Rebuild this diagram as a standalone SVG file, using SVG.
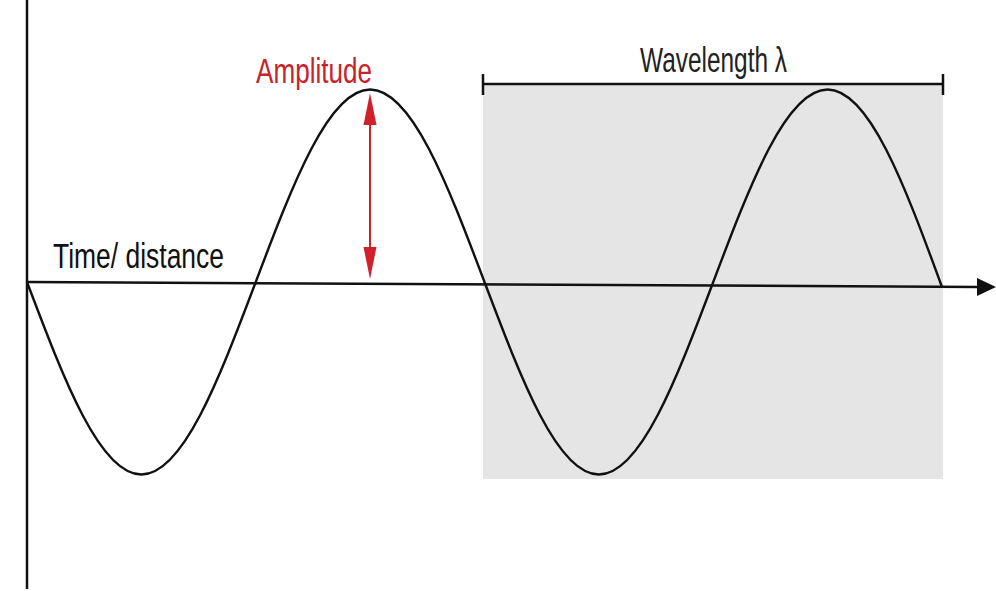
<svg xmlns="http://www.w3.org/2000/svg" width="996" height="591" viewBox="0 0 996 591">
  <style>
    .lbl { font-family: "Liberation Sans", Arial, sans-serif; }
    .axis { stroke: #111; stroke-width: 2.5; fill: none; }
    .wave { stroke: #111; stroke-width: 2.4; fill: none; }
    .red { stroke: #c8232b; stroke-width: 2; fill: none; }
  </style>
  <rect width="996" height="591" fill="#ffffff"/>
  <g id="wavelength-region">
    <rect x="483" y="85" width="460" height="394" fill="#e6e5e6"/>
  </g>
  <g id="connectors">
    <line class="axis" x1="27" y1="0" x2="27" y2="589"/>
    <line class="axis" x1="27" y1="282" x2="979" y2="287"/>
    <polygon points="977,278 996,287 977,296" fill="#111"/>
    <g id="wavelength-bracket">
      <line class="axis" x1="483" y1="84" x2="943" y2="84"/>
      <line class="axis" x1="483" y1="74" x2="483" y2="95"/>
      <line class="axis" x1="943" y1="74" x2="943" y2="95"/>
    </g>
    <g id="amplitude-arrow">
      <line class="red" x1="370" y1="118" x2="370" y2="254"/>
      <polygon points="370,93 376.5,125 363.5,125" fill="#d0202a"/>
      <polygon points="370,279 376.5,247 363.5,247" fill="#d0202a"/>
    </g>
  </g>
  <g id="wave">
    <path class="wave" d="M27,282
      c37.30,98.62 72.98,192.5 114.375,192.5
      c41.40,0 77.075,-93.88 114.375,-192.5
      c37.30,-98.62 72.98,-192.5 114.375,-192.5
      c41.40,0 77.075,93.88 114.375,192.5
      c37.30,98.62 72.98,192.5 114.375,192.5
      c41.40,0 77.075,-93.88 114.375,-192.5
      c37.30,-98.62 72.98,-192.5 114.375,-192.5
      c41.40,0 77.075,95.5 114.375,197.5"/>
  </g>
  <g id="label-time">
    <text class="lbl" x="53" y="268" font-size="35" fill="#111" textLength="171" lengthAdjust="spacingAndGlyphs">Time/ distance</text>
  </g>
  <g id="label-amplitude">
    <text class="lbl" x="256" y="83" font-size="35" fill="#c8232b" textLength="116" lengthAdjust="spacingAndGlyphs">Amplitude</text>
  </g>
  <g id="label-wavelength">
    <text class="lbl" x="640" y="72" font-size="35" fill="#222" textLength="147" lengthAdjust="spacingAndGlyphs">Wavelength λ</text>
  </g>
</svg>
